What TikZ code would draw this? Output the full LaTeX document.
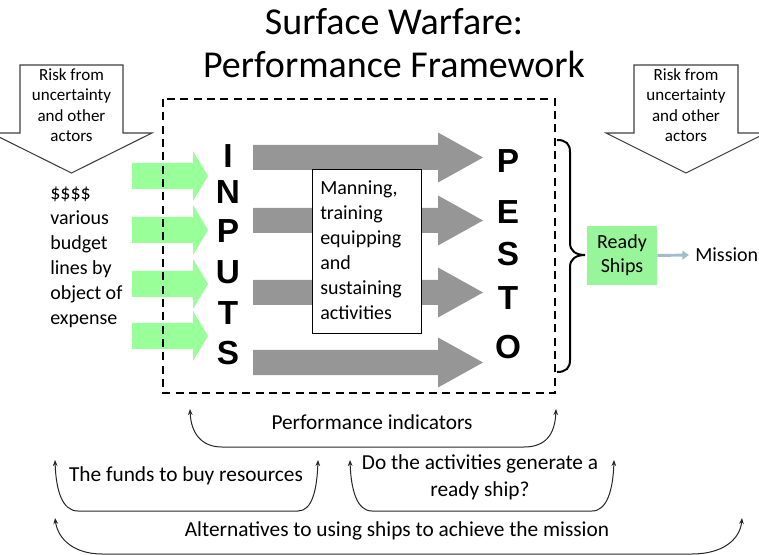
\documentclass[tikz,border=0pt]{standalone}
\usepackage{fontspec}
\setmainfont{Carlito}
\newfontfamily\arialfont{Liberation Sans}
\usetikzlibrary{arrows.meta}
\definecolor{greenarrow}{RGB}{153,255,153}
\definecolor{grayarrow}{RGB}{150,150,150}
\definecolor{readygreen}{RGB}{153,245,153}
\definecolor{linkblue}{RGB}{160,190,200}
\definecolor{outline}{RGB}{64,64,64}
\begin{document}
\begin{tikzpicture}[x=0.75pt,y=-0.75pt,
  titletext/.style={font=\fontsize{28.5}{33}\selectfont, inner sep=0pt, anchor=base},
  body/.style={font=\fontsize{15}{18.75}\selectfont, inner sep=0pt},
  risktext/.style={font=\fontsize{12.75}{15.4}\selectfont, align=center, inner sep=0pt},
  bigletter/.style={font=\arialfont\bfseries\fontsize{25}{30}\selectfont, inner sep=0pt},
  riskarrow/.style={draw=outline, fill=white, line width=0.8pt, line join=miter},
  greenblock/.style={fill=greenarrow},
  grayblock/.style={fill=grayarrow},
  dashbox/.style={draw=black, line width=1.6pt, dash pattern=on 6pt off 4pt},
  fblabel/.style={font=\fontsize{16}{20.25}\selectfont, inner sep=0pt},
  feedback/.style={draw=black!85, line width=0.75pt, arrows={Stealth[length=4.5pt,width=3.5pt]-Stealth[length=4.5pt,width=3.5pt]}},
  linkarrow/.style={draw=linkblue, line width=2.2pt, -{Triangle[length=5pt,width=6.5pt]}}
]
\useasboundingbox (0,0) rectangle (759,555);
\clip (0,0) rectangle (759,555);

% title
\node[titletext] (t1) at (394,35) {Surface Warfare:};
\node[titletext] (t2) at (394,78) {Performance Framework};

% risk arrows
\draw[riskarrow] (20,65) -- (123,65) -- (123,133) -- (152,133) -- (71.5,173) -- (-9,133) -- (20,133) -- cycle;
\node[risktext] (riskL) at (71.5,105) {Risk from\\uncertainty\\and other\\actors};
\draw[riskarrow] (634,65) -- (738,65) -- (738,133) -- (766,133) -- (686,173) -- (606,133) -- (634,133) -- cycle;
\node[risktext] (riskR) at (686,105) {Risk from\\uncertainty\\and other\\actors};

% left text
\node[body, anchor=west, align=left] (budget) at (50,257) {\$\$\$\$\\various\\budget\\lines by\\object of\\expense};

% green arrows
\foreach \c in {176,230,284,336}{
  \fill[greenblock] (132,{\c-13}) -- (193,{\c-13}) -- (193,{\c-25}) -- (208,\c) -- (193,{\c+25}) -- (193,{\c+13}) -- (132,{\c+13}) -- cycle;
}

% gray arrows
\foreach \c in {157.5,220.5,292.5,362.5}{
  \fill[grayblock] (253,{\c-12.5}) -- (438,{\c-12.5}) -- (438,{\c-25}) -- (483,\c) -- (438,{\c+25}) -- (438,{\c+12.5}) -- (253,{\c+12.5}) -- cycle;
}

% dashed frame
\draw[dashbox] (163,99) rectangle (555,393);

% activities box
\node[draw=black, fill=white, line width=0.75pt, minimum width=81.75pt, minimum height=123pt, inner sep=0pt] (actbox) at (366.5,252) {};
\node[body, anchor=west, align=left] (acttext) at (320,250.5) {Manning,\\training\\equipping\\and\\sustaining\\activities};

% INPUTS
\node[bigletter] (i1) at (228,156) {I};
\node[bigletter] (i2) at (228,192) {N};
\node[bigletter] (i3) at (228,231) {P};
\node[bigletter] (i4) at (228,272) {U};
\node[bigletter] (i5) at (228,313) {T};
\node[bigletter] (i6) at (228,353) {S};

% PESTO
\node[bigletter] (p1) at (508,161) {P};
\node[bigletter] (p2) at (508,212) {E};
\node[bigletter] (p3) at (508,254) {S};
\node[bigletter] (p4) at (508,298) {T};
\node[bigletter] (p5) at (508,347) {O};

% brace
\draw[line width=1.5pt] (557,140) .. controls (566,140) and (570,144) .. (570,152) -- (570,243) .. controls (570,251) and (576,255) .. (585,255) .. controls (576,255) and (570,259) .. (570,267) -- (570,360) .. controls (570,368) and (566,372) .. (557,372);

% ready ships and mission
\node[body, fill=readygreen, minimum width=52.5pt, minimum height=44.25pt, align=center, font=\fontsize{15}{18}\selectfont] (ready) at (622,255.5) {Ready\\Ships};
\node[body, anchor=west] (mission) at (695,255) {Mission};
\coordinate (missionin) at (689,255);
\draw[linkarrow] (ready.east) -- (missionin);

% feedback arcs
\draw[feedback] (190,409) .. controls (191,434) and (202,447) .. (222,447) -- (524,447) .. controls (546,447) and (555,434) .. (556,409);
\node[fblabel] (perf) at (372,422) {Performance indicators};

\draw[feedback] (55,460) .. controls (56,490) and (62,511) .. (78,511) -- (298,511) .. controls (312,511) and (317,490) .. (318,460);
\node[fblabel] (funds) at (186,476) {The funds to buy resources};

\draw[feedback] (350,460) .. controls (351,490) and (357,511) .. (372,511) -- (592,511) .. controls (607,511) and (613,490) .. (614,460);
\node[fblabel, align=center] (dotext) at (480,477) {Do the activities generate a\\ready ship?};

\draw[feedback] (55,518) .. controls (58,540) and (75,554) .. (102,554) -- (692,554) .. controls (722,554) and (740,540) .. (742,518);
\node[fblabel] (alt) at (397,531) {Alternatives to using ships to achieve the mission};
\end{tikzpicture}
\end{document}
